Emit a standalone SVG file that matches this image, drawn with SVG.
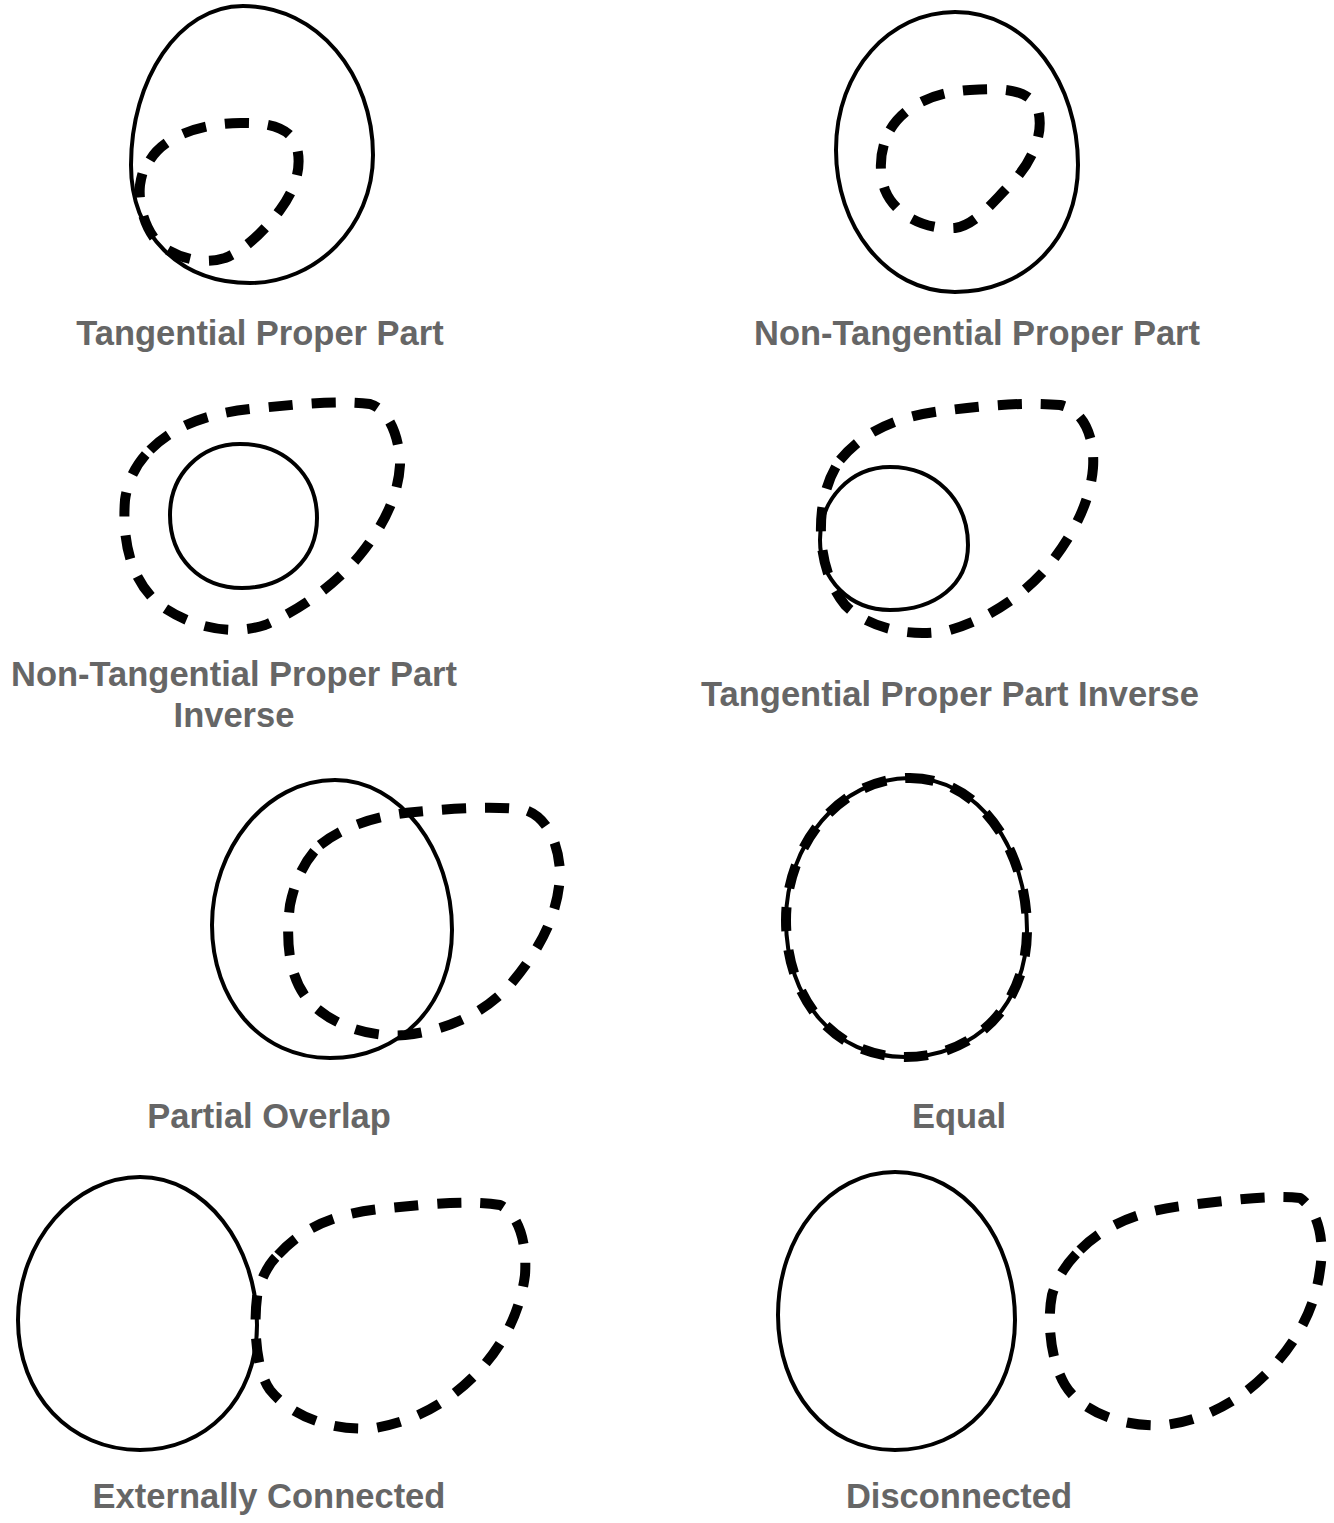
<svg xmlns="http://www.w3.org/2000/svg" width="1334" height="1523" viewBox="0 0 1334 1523">
<style>
.s{fill:none;stroke:#000;stroke-width:4}
.d{fill:none;stroke:#000;stroke-width:10;stroke-dasharray:24 19}
.t{font-family:"Liberation Sans",Arial,Helvetica,sans-serif;font-weight:bold;font-size:34.5px;fill:#666;text-anchor:middle}
</style>
<rect width="1334" height="1523" fill="#fff"/>
<g id="tpp">
<path class="s" d="M243,6 C318,6 373,75 373,155 C373,228 315,283 250,283 C180,283 131,235 131,165 C131,80 178,6 243,6 Z"/>
<path class="d" d="M150,160 C165,135 205,122 245,123 C270,123 292,128 297,148 C302,168 295,190 280,210 C265,230 245,250 225,258 C200,266 175,256 160,245 C145,230 138,205 140,185 C142,172 145,165 150,160 Z"/>
<text class="t" x="260" y="345">Tangential Proper Part</text>
</g>
<g id="ntpp">
<path class="s" d="M955,12 C1030,12 1078,85 1078,165 C1078,240 1025,292 955,292 C885,292 836,225 836,150 C836,70 890,12 955,12 Z"/>
<path class="d" d="M890,130 C905,105 935,92 970,90 C1000,88 1030,88 1038,110 C1045,135 1030,165 1010,185 C990,205 975,225 955,228 C925,230 895,215 885,190 C878,170 880,148 890,130 Z"/>
<text class="t" x="977" y="345">Non-Tangential Proper Part</text>
</g>
<g id="ntppi">
<path class="d" d="M150,450 C175,425 210,412 260,408 C300,404 340,400 370,404 C390,410 400,440 400,465 C398,500 380,530 360,555 C335,585 300,610 265,625 C235,635 195,630 160,605 C130,580 122,540 125,500 C128,478 138,462 150,450 Z"/>
<path class="s" d="M240,444 C285,444 317,475 317,518 C317,560 285,588 242,588 C200,588 170,558 170,515 C170,475 200,444 240,444 Z"/>
<text class="t" x="234" y="686">Non-Tangential Proper Part</text>
<text class="t" x="234" y="727">Inverse</text>
</g>
<g id="tppi">
<path class="d" d="M840,460 C865,430 900,415 950,410 C990,405 1030,402 1060,405 C1085,410 1095,440 1093,468 C1090,505 1070,540 1045,570 C1020,598 985,620 950,630 C915,638 870,630 845,605 C825,580 818,545 822,510 C825,490 830,475 840,460 Z"/>
<path class="s" d="M890,467 C935,467 968,500 968,545 C968,585 935,610 890,610 C850,610 820,580 820,540 C820,500 850,467 890,467 Z"/>
<text class="t" x="950" y="706">Tangential Proper Part Inverse</text>
</g>
<g id="po">
<path class="s" d="M335,780 C400,780 452,850 452,930 C452,1005 400,1058 330,1058 C260,1058 212,1000 212,925 C212,850 265,780 335,780 Z"/>
<path class="d" d="M320,845 C345,825 380,815 415,812 C455,808 500,806 525,810 C550,818 560,850 560,875 C558,920 535,955 510,985 C485,1012 450,1030 405,1035 C370,1038 330,1025 308,1000 C290,978 285,945 290,905 C295,880 305,860 320,845 Z"/>
<text class="t" x="269" y="1128">Partial Overlap</text>
</g>
<g id="eq">
<path class="s" d="M910,778 C980,778 1027,850 1027,930 C1027,1005 975,1057 905,1057 C835,1057 786,1000 786,920 C786,845 840,778 910,778 Z"/>
<path class="d" d="M910,778 C980,778 1027,850 1027,930 C1027,1005 975,1057 905,1057 C835,1057 786,1000 786,920 C786,845 840,778 910,778 Z"/>
<text class="t" x="959" y="1128">Equal</text>
</g>
<g id="ec">
<path class="s" d="M140,1177 C205,1177 257,1245 257,1325 C257,1400 205,1450 140,1450 C70,1450 18,1395 18,1320 C18,1240 75,1177 140,1177 Z"/>
<path class="d" d="M278,1255 C305,1225 340,1212 390,1208 C430,1204 470,1200 500,1205 C520,1215 527,1245 525,1275 C520,1315 500,1350 475,1375 C450,1400 420,1420 375,1428 C330,1432 290,1415 270,1390 C255,1370 253,1320 258,1290 C263,1275 270,1262 278,1255 Z"/>
<text class="t" x="269" y="1508">Externally Connected</text>
</g>
<g id="dc">
<path class="s" d="M895,1172 C965,1172 1015,1240 1015,1320 C1015,1395 965,1450 895,1450 C825,1450 778,1390 778,1315 C778,1235 830,1172 895,1172 Z"/>
<path class="d" d="M1080,1250 C1105,1225 1140,1210 1190,1205 C1230,1200 1270,1195 1300,1198 C1318,1210 1325,1240 1320,1270 C1315,1310 1295,1345 1265,1375 C1240,1400 1205,1420 1165,1425 C1120,1428 1080,1410 1065,1385 C1050,1360 1047,1320 1052,1295 C1058,1275 1068,1262 1080,1250 Z"/>
<text class="t" x="959" y="1508">Disconnected</text>
</g>
<g id="connectors"/>
</svg>
